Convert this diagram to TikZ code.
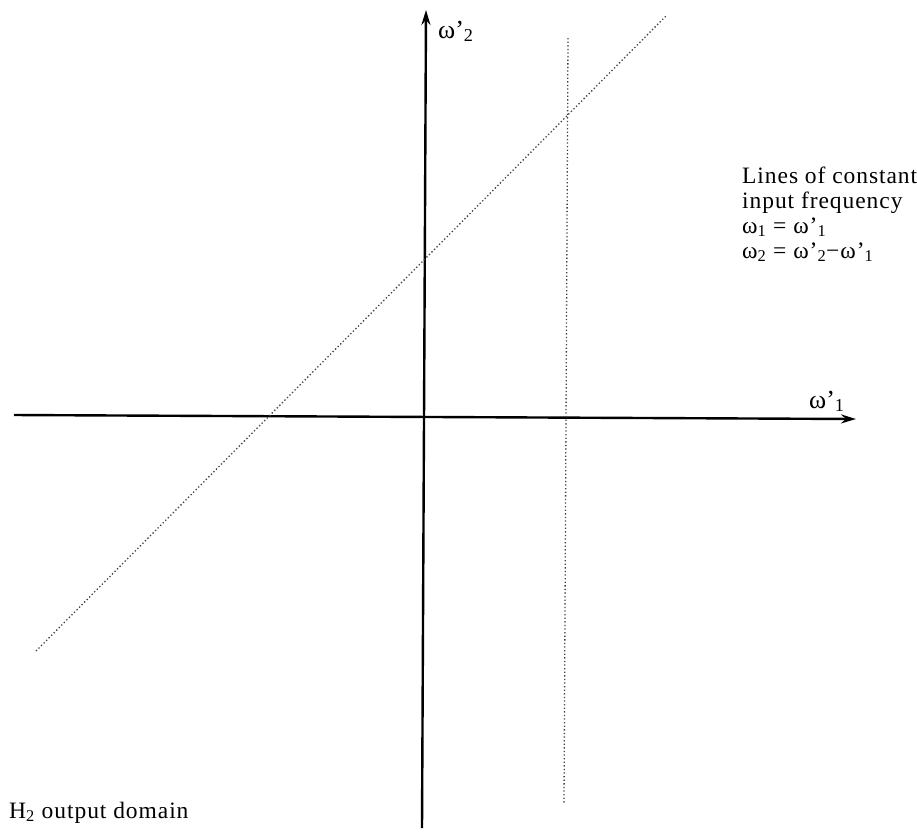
\documentclass[tikz,border=0pt]{standalone}
\usepackage{fontspec}
\setmainfont{Liberation Serif}
\newfontfamily\spacedserif[LetterSpace=4]{Liberation Serif}
\usetikzlibrary{arrows.meta}
\begin{document}
\begin{tikzpicture}[x=1pt,y=-1pt,
  axis/.style={line width=2.4pt,-{Stealth[length=15pt,width=9pt]}},
  guide/.style={line width=1.3pt,dash pattern=on 1.3pt off 2.3pt,black!75},
  lbl/.style={font=\spacedserif\fontsize{23.5}{25}\selectfont,inner sep=0pt,anchor=base west},
  albl/.style={font=\fontsize{26}{28}\selectfont,inner sep=0pt,anchor=base west}]
\useasboundingbox (0,0) rectangle (917,831);
% axes
\coordinate (hL) at (14,415);
\coordinate (hR) at (856,419);
\coordinate (vB) at (422,828);
\coordinate (vT) at (426,10);
\draw[axis] (hL) -- (hR);
\draw[axis] (vB) -- (vT);
% guides
\coordinate (dT) at (568,38);
\coordinate (dB) at (564,803);
\coordinate (gL) at (36,651);
\coordinate (gR) at (666,16);
\draw[guide] (dT) -- (dB);
\draw[guide] (gL) -- (gR);
% labels
\node[albl] (l2) at (438,38) {ω’\textsubscript{2}};
\node[albl] (l1) at (809,408) {ω’\textsubscript{1}};
\node[lbl] (t1) at (742,183) {Lines of constant};
\node[lbl] (t2) at (742,208) {input frequency};
\node[lbl] (t3) at (742,233) {ω\textsubscript{1} = ω’\textsubscript{1}};
\node[lbl] (t4) at (742,258) {ω\textsubscript{2} = ω’\textsubscript{2}−ω’\textsubscript{1}};
\node[lbl] (h2) at (9,818) {H\textsubscript{2} output domain};
\end{tikzpicture}
\end{document}
